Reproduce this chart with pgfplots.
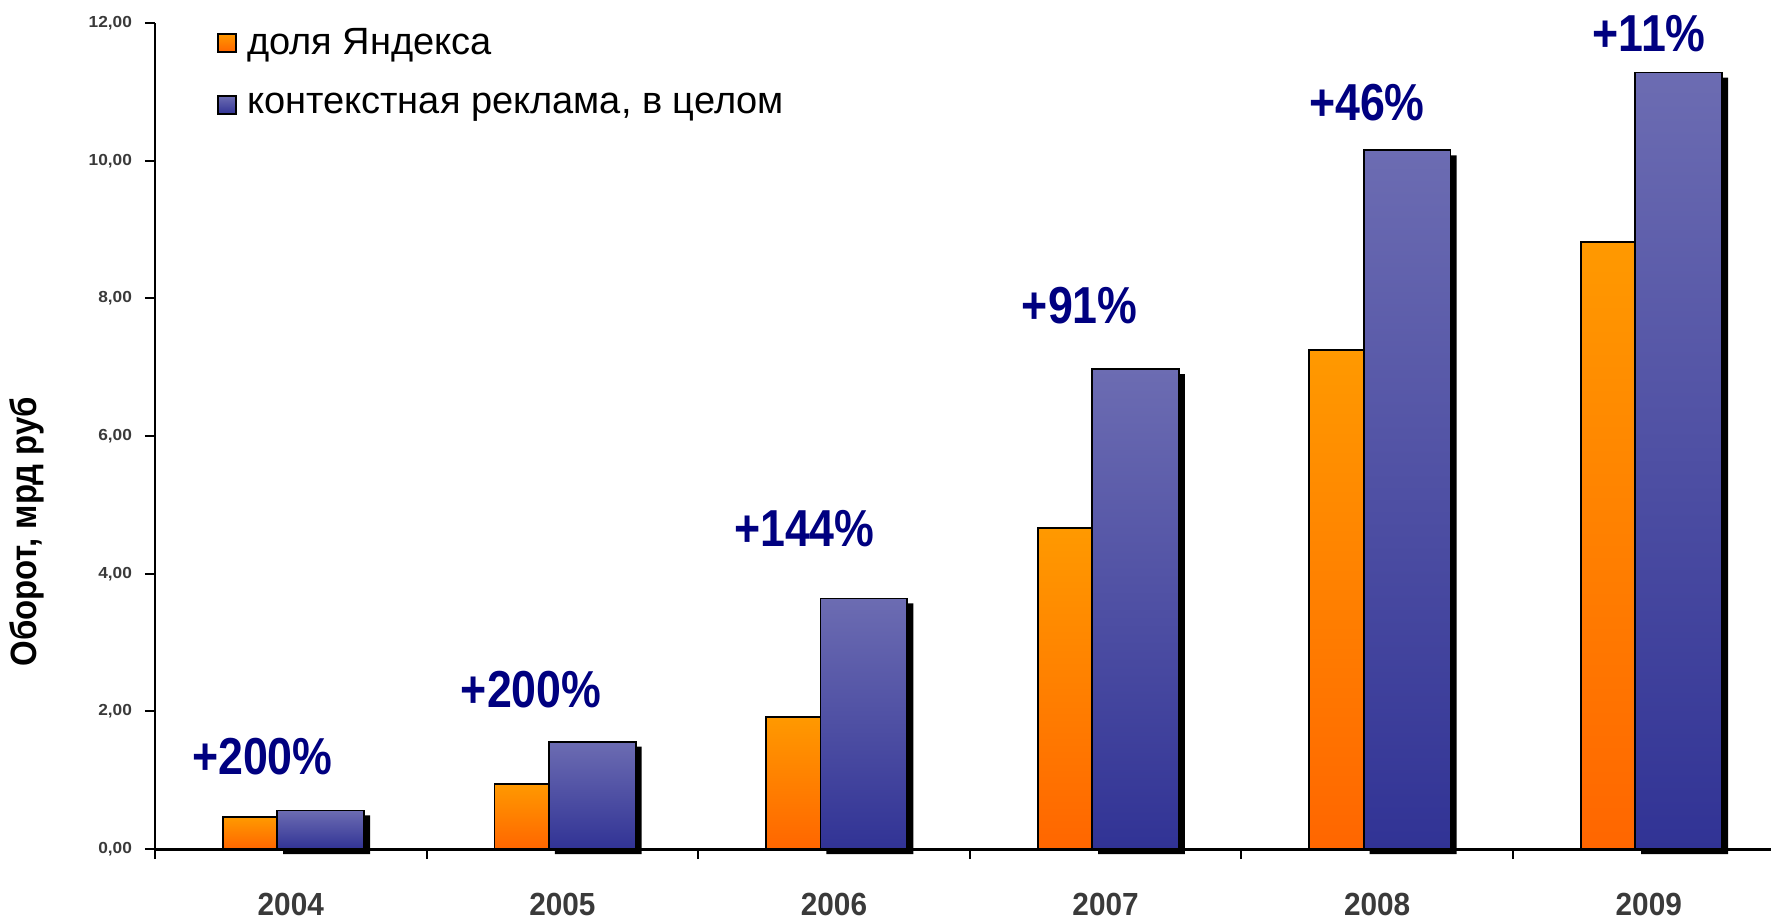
\documentclass[border=0pt]{standalone}
\usepackage{pgfplots}
\pgfplotsset{compat=1.18}
\usepackage{fontspec}
\setmainfont{Liberation Sans}
\newfontfamily\pctfont{Liberation Sans}[FakeStretch=0.86]
\newfontfamily\ylabfont{Liberation Sans}[FakeStretch=0.9]
\newfontfamily\yearfont{Liberation Sans}[FakeStretch=0.93]
\newfontfamily\tickfont{Liberation Sans}[FakeStretch=1.08]
\definecolor{orTop}{HTML}{FF9900}
\definecolor{orBot}{HTML}{FF6600}
\definecolor{blTop}{HTML}{6C6CB2}
\definecolor{blBot}{HTML}{313395}
\definecolor{navy}{HTML}{000080}
\definecolor{tickgray}{HTML}{3A3A3A}
\pgfplotsset{
  sqlegend/.style={legend image code/.code={\draw[##1, draw=black, line width=0.8pt] (0pt,-4.5pt) rectangle (9pt,4.5pt); \path (12pt,0pt);}},
  orbar/.style={draw=black, line width=0.9pt, top color=orTop, bottom color=orBot, bar width=0.2, bar shift=-0.15},
  blbar/.style={draw=black, line width=0.9pt, top color=blTop, bottom color=blBot, bar width=0.32, bar shift=0.11},
}
\tikzset{pct/.style={font=\pctfont\bfseries\fontsize{26}{28}\selectfont, text=navy}}

\begin{document}
\begin{tikzpicture}
\useasboundingbox (-77.5pt,-36.5pt) rectangle (808pt,424.5pt);
\begin{axis}[
  at={(0,0)}, anchor=south west,
  scale only axis, width=808pt, height=413pt,
  xmin=-0.5, xmax=5.45, ymin=0, ymax=12,
  ybar, clip=false, axis on top,
  axis x line*=bottom, axis y line*=left,
  x axis line style={line width=1.5pt},
  y axis line style={line width=1.1pt},
  xtick={-0.5,0.5,1.5,2.5,3.5,4.5}, xticklabels={},
  extra x ticks={0,1,2,3,4,5},
  extra x tick labels={2004,2005,2006,2007,2008,2009},
  extra x tick style={tick style={draw=none}},
  ytick={0,2,4,6,8,10,12},
  tick align=outside, major tick length=5pt,
  tick style={black, line width=1pt},
  xticklabel style={font=\yearfont\bfseries\fontsize{16}{18}\selectfont, text=tickgray, anchor=center, yshift=-22.5pt},
  yticklabel style={font=\tickfont\bfseries\fontsize{8}{9}\selectfont, text=tickgray, xshift=-3pt},
  /pgf/number format/fixed, /pgf/number format/fixed zerofill,
  /pgf/number format/precision=2, /pgf/number format/use comma,
  /pgf/number format/assume math mode=true,
  ylabel={Оборот, мрд руб},
  every axis y label/.style={at={(axis description cs:-0.0794,0.384)}, rotate=90, anchor=center,
     font=\ylabfont\bfseries\fontsize{18.3}{20}\selectfont},
  legend style={at={(axis description cs:0.0384,0.999)}, anchor=north west, draw=none, fill=none,
     font=\fontsize{19}{22}\selectfont, row sep=14pt, inner sep=0pt, nodes={inner sep=2pt}},
  legend cell align=left,
]
% shadow behind the blue bars
\addplot[forget plot, fill=black, draw=none, bar width=0.32, bar shift=0.11, xshift=3pt, yshift=-2.5pt]
  coordinates {(0,0.56) (1,1.56) (2,3.64) (3,6.97) (4,10.15) (5,11.28)};
% orange bars: Yandex share (one plot per bar so each bar gets its own gradient)
\addplot[orbar, sqlegend] coordinates {(0,0.46)};
\addlegendentry{доля Яндекса}
\addplot[orbar, forget plot] coordinates {(1,0.95)};
\addplot[orbar, forget plot] coordinates {(2,1.92)};
\addplot[orbar, forget plot] coordinates {(3,4.66)};
\addplot[orbar, forget plot] coordinates {(4,7.25)};
\addplot[orbar, forget plot] coordinates {(5,8.82)};
% blue bars: context advertising total
\addplot[blbar, sqlegend] coordinates {(0,0.56)};
\addlegendentry{контекстная реклама, в целом}
\addplot[blbar, forget plot] coordinates {(1,1.56)};
\addplot[blbar, forget plot] coordinates {(2,3.64)};
\addplot[blbar, forget plot] coordinates {(3,6.97)};
\addplot[blbar, forget plot] coordinates {(4,10.15)};
\addplot[blbar, forget plot] coordinates {(5,11.28)};

\node[pct] at (axis cs:-0.105,1.34) {+200\%};
\node[pct] at (axis cs:0.885,2.31) {+200\%};
\node[pct] at (axis cs:1.891,4.66) {+144\%};
\node[pct] at (axis cs:2.905,7.90) {+91\%};
\node[pct] at (axis cs:3.962,10.85) {+46\%};
\node[pct] at (axis cs:5.001,11.84) {+11\%};
\end{axis}
\end{tikzpicture}
\end{document}
